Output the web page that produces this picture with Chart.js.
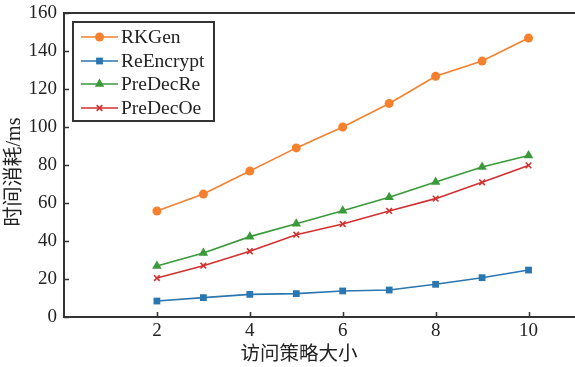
<!DOCTYPE html>
<html>
<head>
<meta charset="utf-8">
<script src="https://cdn.jsdelivr.net/npm/chart.js@4/dist/chart.umd.min.js"></script>
<style>
  html, body { margin: 0; padding: 0; background: #fff; }
  #wrap { width: 575px; height: 367px; position: relative; }
</style>
</head>
<body>
<div id="wrap"><canvas id="timeChart"></canvas></div>
<script>
// policy sizes on the x axis
const policySizes = [2, 3, 4, 5, 6, 7, 8, 9, 10];
const xTicks = [2, 4, 6, 8, 10];

// time cost in ms
const rkGen = [55.8, 64.7, 76.8, 89.0, 100.0, 112.4, 126.7, 134.7, 146.8];
const reEncrypt = [8.4, 10.2, 11.9, 12.3, 13.7, 14.2, 17.2, 20.7, 24.7];
const preDecRe = [26.8, 33.7, 42.3, 49.1, 55.9, 63.0, 71.0, 79.0, 85.0];
const preDecOe = [20.5, 27.0, 34.6, 43.3, 48.9, 55.8, 62.3, 70.9, 79.8];

const seriesNames = ['RKGen', 'ReEncrypt', 'PreDecRe', 'PreDecOe'];
const xTitle = '访问策略大小';
const yTitle = '时间消耗/ms';

const serif = '"Liberation Serif", "Times New Roman", serif';
const cjk = '"Liberation Serif", "Noto Sans CJK SC", serif';
const axisColor = '#333333';
const textColor = '#222222';

function pts(arr) {
    return policySizes.map((x, i) => ({ x: x, y: arr[i] }));
}

function makeSet(label, arr, color, style, radius) {
    return {
        label: label,
        data: pts(arr),
        borderColor: color,
        backgroundColor: color,
        borderWidth: 1.6,
        pointStyle: style,
        pointRadius: radius,
        pointBorderWidth: style === 'crossRot' ? 1.6 : 0,
        pointBackgroundColor: color,
        pointBorderColor: color,
        tension: 0
    };
}

// inside ticks, top frame line, axis titles and a line+marker legend box
const frameAndLegend = {
    id: 'frameAndLegend',
    afterDraw(chart) {
        const ctx = chart.ctx;
        const area = chart.chartArea;
        const xs = chart.scales.x, ys = chart.scales.y;
        ctx.save();
        ctx.strokeStyle = axisColor;
        ctx.lineWidth = 2;
        ctx.beginPath();
        ctx.moveTo(area.left - 1, area.top);
        ctx.lineTo(area.right, area.top);
        ctx.stroke();

        ctx.lineWidth = 1.5;
        ctx.beginPath();
        ys.ticks.forEach(t => {
            const py = Math.round(ys.getPixelForValue(t.value)) + 0.5;
            ctx.moveTo(area.left, py);
            ctx.lineTo(area.left + 5, py);
        });
        xs.ticks.forEach(t => {
            const px = Math.round(xs.getPixelForValue(t.value)) + 0.5;
            ctx.moveTo(px, area.bottom);
            ctx.lineTo(px, area.bottom - 5);
        });
        ctx.stroke();

        // axis titles
        ctx.fillStyle = textColor;
        ctx.textAlign = 'center';
        ctx.textBaseline = 'middle';
        ctx.font = '19.5px ' + cjk;
        ctx.fillText(xTitle, 299, 355);
        ctx.save();
        ctx.translate(15, 172);
        ctx.rotate(-Math.PI / 2);
        ctx.font = '20px ' + cjk;
        ctx.fillText(yTitle, 0, 0);
        ctx.restore();

        // legend
        const bx = 73, by = 22, bw = 141, bh = 99;
        ctx.lineWidth = 2;
        ctx.strokeStyle = axisColor;
        ctx.fillStyle = '#fff';
        ctx.fillRect(bx, by, bw, bh);
        ctx.strokeRect(bx, by, bw, bh);
        const rowY = [37, 61, 84, 108];
        ctx.font = '19.5px ' + serif;
        ctx.textAlign = 'left';
        ctx.textBaseline = 'middle';
        chart.data.datasets.forEach((ds, i) => {
            const y = rowY[i];
            ctx.strokeStyle = ds.borderColor;
            ctx.lineWidth = ds.borderWidth;
            ctx.beginPath();
            ctx.moveTo(81, y);
            ctx.lineTo(118, y);
            ctx.stroke();
            ctx.fillStyle = ds.pointBackgroundColor;
            Chart.helpers.drawPoint(ctx, {
                pointStyle: ds.pointStyle,
                radius: ds.pointRadius,
                rotation: 0,
                borderWidth: ds.pointBorderWidth
            }, 99.5, y);
            ctx.fillStyle = textColor;
            ctx.fillText(seriesNames[i], 121, y + 1);
        });
        ctx.restore();
    }
};

const chart = new Chart(document.getElementById('timeChart'), {
    type: 'line',
    data: {
        datasets: [
            makeSet(seriesNames[0], rkGen, '#f5812f', 'circle', 4.5),
            makeSet(seriesNames[1], reEncrypt, '#2a76b0', 'rect', 4.8),
            makeSet(seriesNames[2], preDecRe, '#3a9a3a', 'triangle', 5.5),
            makeSet(seriesNames[3], preDecOe, '#d23030', 'crossRot', 4)
        ]
    },
    options: {
        responsive: true,
        maintainAspectRatio: false,
        animation: false,
        devicePixelRatio: 1,
        layout: { autoPadding: false, padding: { top: 13, right: 0, left: 0, bottom: 0 } },
        plugins: {
            legend: { display: false },
            tooltip: { enabled: false }
        },
        scales: {
            x: {
                type: 'linear',
                min: 0,
                max: 11,
                afterBuildTicks: (s) => { s.ticks = xTicks.map(v => ({ value: v })); },
                afterFit: (s) => { s.height = 50; s.paddingLeft = 0; s.paddingRight = 0; },
                grid: { display: false, drawTicks: false },
                border: { display: true, color: axisColor, width: 2 },
                ticks: { color: textColor, padding: 3, font: { family: serif, size: 19 } }
            },
            y: {
                min: 0,
                max: 160,
                afterFit: (s) => { s.width = 64; s.paddingTop = 0; s.paddingBottom = 0; },
                grid: { display: false, drawTicks: false },
                border: { display: true, color: axisColor, width: 2 },
                ticks: { stepSize: 20, color: textColor, padding: 7, font: { family: serif, size: 19 } }
            }
        }
    },
    plugins: [frameAndLegend]
});
</script>
</body>
</html>
